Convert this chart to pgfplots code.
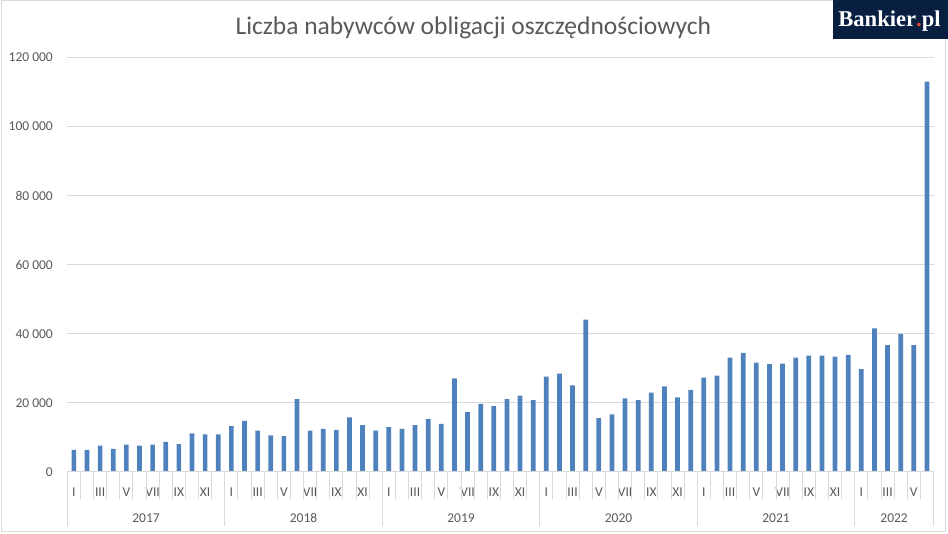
\documentclass[border=0pt]{standalone}
\usepackage{pgfplots}
\pgfplotsset{compat=1.18}
\usepackage{fontspec}
\setmainfont{Carlito}
\newfontfamily\logofont{Liberation Serif}
\definecolor{barblue}{RGB}{79,129,189}
\definecolor{txtgray}{RGB}{89,89,89}
\definecolor{gridgray}{RGB}{217,217,217}
\definecolor{logonavy}{RGB}{8,31,66}
\definecolor{logodot}{RGB}{232,69,44}
\begin{document}
\begin{tikzpicture}[x=1pt,y=1pt]
\useasboundingbox (0,0) rectangle (948,533);
\draw[gridgray, line width=1pt] (1,2) rectangle (945.5,532);
\fill[logonavy] (833.3,494) rectangle (948,533);
\node[anchor=base, text=white, font=\logofont\bfseries\fontsize{22.6}{24}\selectfont, inner sep=0pt] at (889.5,506.3) {Bankier\textcolor{logodot}{.}pl};
\node[anchor=base, text=txtgray, font=\fontsize{25.5}{28}\selectfont, inner sep=0pt] at (473.4,498) {Liczba nabywców obligacji oszczędnościowych};
\begin{axis}[
  at={(67.3pt,61pt)}, anchor=south west, scale only axis,
  width=866.2pt, height=414.5pt,
  xmin=-0.5, xmax=65.5, ymin=0, ymax=120000,
  ybar, bar width=4.7pt,
  axis line style={draw=none},
  ytick={0,20000,40000,60000,80000,100000,120000},
  yticklabels={0,{20 000},{40 000},{60 000},{80 000},{100 000},{120 000}},
  ymajorgrids, grid style={gridgray, line width=1pt},
  major tick length=0pt,
  scaled y ticks=false,
  yticklabel style={anchor=east, inner sep=0pt, xshift=-14.3pt},
  ticklabel style={text=txtgray, font=\fontsize{13.5}{16}\selectfont},
  xtick={0,...,65},
  xticklabels={{I},{},{III},{},{V},{},{VII},{},{IX},{},{XI},{},
               {I},{},{III},{},{V},{},{VII},{},{IX},{},{XI},{},
               {I},{},{III},{},{V},{},{VII},{},{IX},{},{XI},{},
               {I},{},{III},{},{V},{},{VII},{},{IX},{},{XI},{},
               {I},{},{III},{},{V},{},{VII},{},{IX},{},{XI},{},
               {I},{},{III},{},{V},{}},
  xticklabel style={anchor=base, inner sep=0pt, yshift=-24.5pt},
  clip=false,
]
\addplot[fill=barblue, draw=none] coordinates {
(0,6400) (1,6400) (2,7600) (3,6700) (4,7900) (5,7600) (6,7900) (7,8700) (8,8100) (9,11200) (10,10900) (11,10900)
(12,13300) (13,14800) (14,12000) (15,10600) (16,10400) (17,21100) (18,12000) (19,12500) (20,12200) (21,15800) (22,13600) (23,12000)
(24,13000) (25,12500) (26,13600) (27,15300) (28,13900) (29,27100) (30,17300) (31,19700) (32,19100) (33,21100) (34,22100) (35,20800)
(36,27600) (37,28500) (38,25100) (39,44100) (40,15600) (41,16700) (42,21300) (43,20800) (44,23000) (45,24800) (46,21600) (47,23800)
(48,27300) (49,27900) (50,33100) (51,34500) (52,31700) (53,31200) (54,31400) (55,33100) (56,33700) (57,33700) (58,33400) (59,33900)
(60,29800) (61,41600) (62,36700) (63,40000) (64,36700) (65,113000)
};
\draw[gridgray, line width=1pt] (axis cs:-0.5,0) -- (axis cs:65.5,0);
\pgfplotsinvokeforeach{-0.5,0.5,...,65.5}{\draw[gridgray, line width=1pt] (axis cs:#1,0) -- ++(0pt,-27.3pt);}
\pgfplotsinvokeforeach{-0.5,11.5,23.5,35.5,47.5,59.5,65.5}{\draw[gridgray, line width=1pt] (axis cs:#1,0) -- ++(0pt,-53.7pt);}
\node[anchor=base, text=txtgray, font=\fontsize{13.5}{16}\selectfont, inner sep=0pt, yshift=-50.3pt] at (axis cs:5.5,0) {2017};
\node[anchor=base, text=txtgray, font=\fontsize{13.5}{16}\selectfont, inner sep=0pt, yshift=-50.3pt] at (axis cs:17.5,0) {2018};
\node[anchor=base, text=txtgray, font=\fontsize{13.5}{16}\selectfont, inner sep=0pt, yshift=-50.3pt] at (axis cs:29.5,0) {2019};
\node[anchor=base, text=txtgray, font=\fontsize{13.5}{16}\selectfont, inner sep=0pt, yshift=-50.3pt] at (axis cs:41.5,0) {2020};
\node[anchor=base, text=txtgray, font=\fontsize{13.5}{16}\selectfont, inner sep=0pt, yshift=-50.3pt] at (axis cs:53.5,0) {2021};
\node[anchor=base, text=txtgray, font=\fontsize{13.5}{16}\selectfont, inner sep=0pt, yshift=-50.3pt] at (axis cs:62.5,0) {2022};
\end{axis}
\end{tikzpicture}
\end{document}
